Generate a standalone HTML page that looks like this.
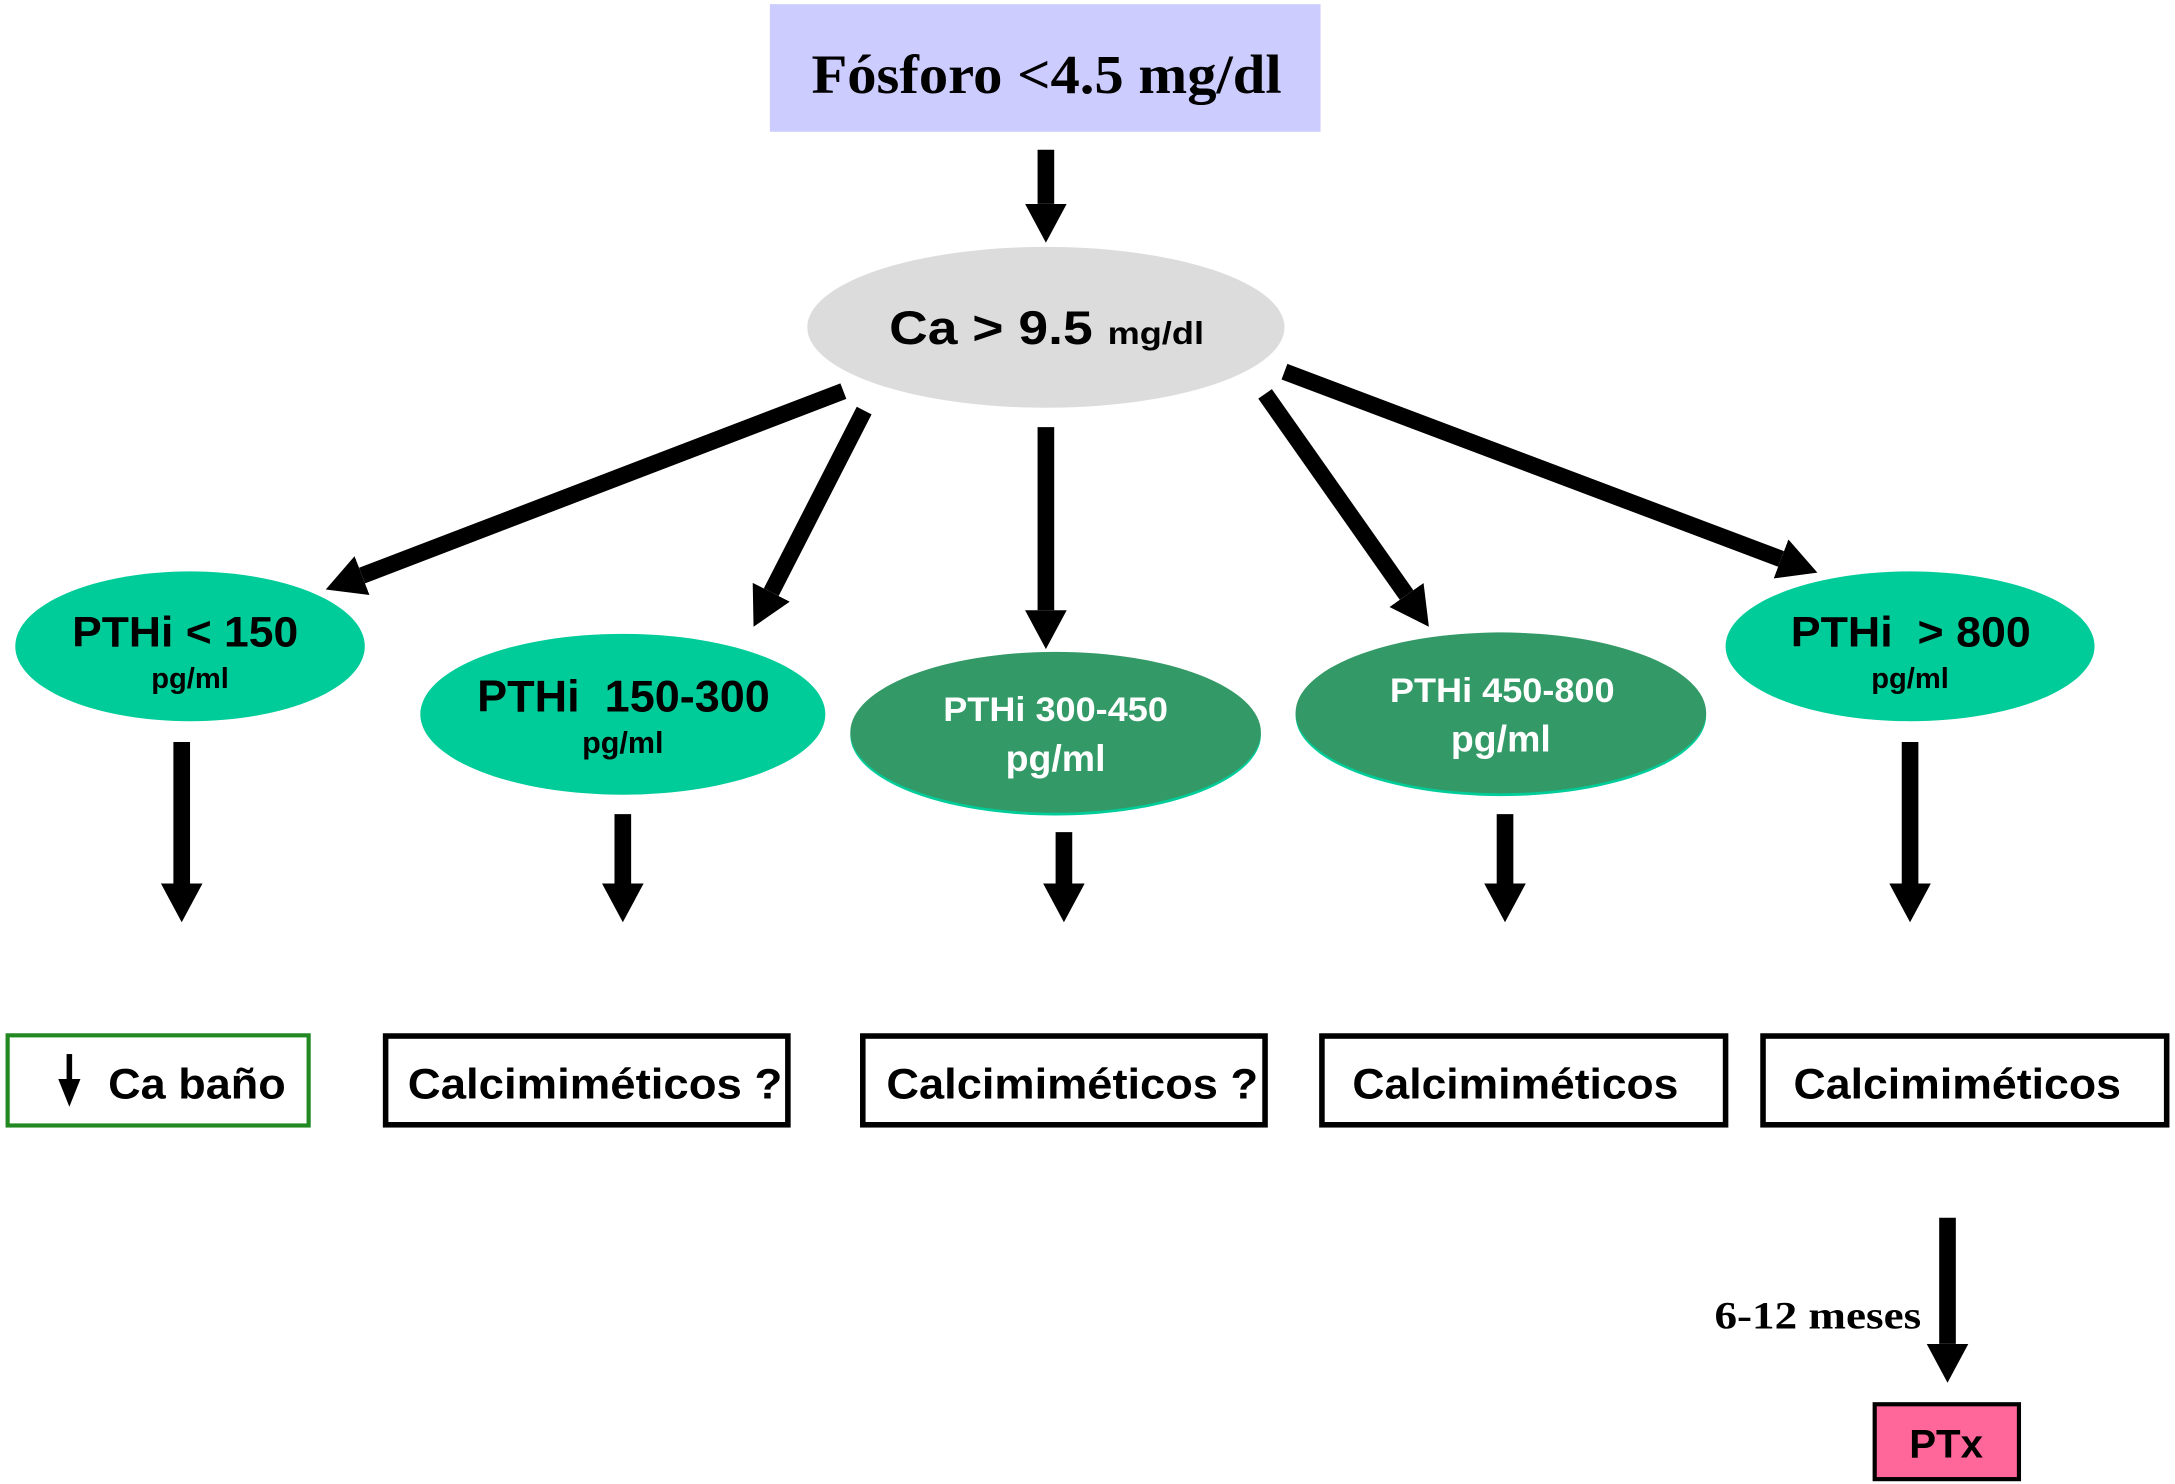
<!DOCTYPE html>
<html><head><meta charset="utf-8"><style>
html,body{margin:0;padding:0;background:#fff;}
svg{display:block;}
.s{font-family:"Liberation Sans",sans-serif;font-weight:bold;}
.r{font-family:"Liberation Serif",serif;font-weight:bold;}
</style></head><body>
<svg width="2175" height="1484" viewBox="0 0 1568 1070" preserveAspectRatio="none" xmlns="http://www.w3.org/2000/svg">
<defs>
<marker id="a" markerUnits="userSpaceOnUse" markerWidth="28" markerHeight="30" refX="0" refY="15" orient="auto" viewBox="0 0 28 30">
<path d="M0,0 L28,15 L0,30 Z" fill="#000"/>
</marker>
</defs>
<rect x="0" y="0" width="1568" height="1070" fill="#fff"/>
<rect x="555" y="3" width="397" height="92" fill="#ccccff"/>
<text x="585" y="67" class="r" font-size="40" textLength="339" lengthAdjust="spacingAndGlyphs">Fósforo &lt;4.5 mg/dl</text>
<g stroke="#000" stroke-width="12" fill="none" marker-end="url(#a)">
<line x1="754" y1="108" x2="754" y2="147"/>
<line x1="608" y1="282" x2="261" y2="415"/>
<line x1="623" y1="296" x2="556" y2="427"/>
<line x1="754" y1="308" x2="754" y2="440"/>
<line x1="912" y1="284" x2="1014" y2="429"/>
<line x1="926" y1="268" x2="1284" y2="403"/>
<line x1="131" y1="535" x2="131" y2="637"/>
<line x1="449" y1="587" x2="449" y2="637"/>
<line x1="767" y1="600" x2="767" y2="637"/>
<line x1="1085" y1="587" x2="1085" y2="637"/>
<line x1="1377" y1="535" x2="1377" y2="637"/>
<line x1="1404" y1="878" x2="1404" y2="969"/>
</g>
<ellipse cx="754" cy="236" rx="172" ry="58" fill="#dcdcdc"/>
<text x="641" y="248" class="s" font-size="34" textLength="227" lengthAdjust="spacingAndGlyphs">Ca &gt; 9.5 <tspan font-size="23">mg/dl</tspan></text>
<ellipse cx="137" cy="466" rx="126" ry="54" fill="#00cc99"/>
<text x="52" y="466" class="s" font-size="31" textLength="163" lengthAdjust="spacingAndGlyphs">PTHi &lt; 150</text>
<text x="137" y="496" text-anchor="middle" class="s" font-size="21">pg/ml</text>
<ellipse cx="449" cy="515" rx="146" ry="58" fill="#00cc99"/>
<text x="344" y="513" class="s" font-size="32" textLength="211" lengthAdjust="spacingAndGlyphs" xml:space="preserve">PTHi  150-300</text>
<text x="449" y="543" text-anchor="middle" class="s" font-size="22">pg/ml</text>
<ellipse cx="761" cy="530" rx="148" ry="58" fill="#00cc99"/>
<ellipse cx="761" cy="528" rx="148" ry="58" fill="#339966"/>
<text x="680" y="520" class="s" font-size="25" textLength="162" lengthAdjust="spacingAndGlyphs" fill="#fff">PTHi 300-450</text>
<text x="761" y="556" text-anchor="middle" class="s" font-size="27" fill="#fff">pg/ml</text>
<ellipse cx="1082" cy="516" rx="148" ry="58" fill="#00cc99"/>
<ellipse cx="1082" cy="514" rx="148" ry="58" fill="#339966"/>
<text x="1002" y="506" class="s" font-size="25" textLength="162" lengthAdjust="spacingAndGlyphs" fill="#fff">PTHi 450-800</text>
<text x="1082" y="542" text-anchor="middle" class="s" font-size="27" fill="#fff">pg/ml</text>
<ellipse cx="1377" cy="466" rx="133" ry="54" fill="#00cc99"/>
<text x="1291" y="466" class="s" font-size="31" textLength="173" lengthAdjust="spacingAndGlyphs" xml:space="preserve">PTHi  &gt; 800</text>
<text x="1377" y="496" text-anchor="middle" class="s" font-size="21">pg/ml</text>
<rect x="5.5" y="746.5" width="217" height="65" fill="#fff" stroke="#228822" stroke-width="3"/>
<line x1="50" y1="760" x2="50" y2="782" stroke="#000" stroke-width="4"/>
<path d="M42,778 L58,778 L50,798 Z" fill="#000"/>
<text x="78" y="792" class="s" font-size="31" textLength="128" lengthAdjust="spacingAndGlyphs">Ca baño</text>
<g fill="#fff" stroke="#000" stroke-width="4">
<rect x="278" y="747" width="290" height="64"/>
<rect x="622" y="747" width="290" height="64"/>
<rect x="953" y="747" width="291" height="64"/>
<rect x="1271" y="747" width="291" height="64"/>
</g>
<text x="294" y="792" class="s" font-size="31" textLength="270" lengthAdjust="spacingAndGlyphs">Calcimiméticos ?</text>
<text x="639" y="792" class="s" font-size="31" textLength="268" lengthAdjust="spacingAndGlyphs">Calcimiméticos ?</text>
<text x="975" y="792" class="s" font-size="31" textLength="235" lengthAdjust="spacingAndGlyphs">Calcimiméticos</text>
<text x="1293" y="792" class="s" font-size="31" textLength="236" lengthAdjust="spacingAndGlyphs">Calcimiméticos</text>
<text x="1236" y="958" class="r" font-size="28" textLength="149" lengthAdjust="spacingAndGlyphs">6-12 meses</text>
<rect x="1351.5" y="1012.5" width="104" height="54" fill="#ff6699" stroke="#000" stroke-width="3"/>
<text x="1403" y="1051" text-anchor="middle" class="s" font-size="29">PTx</text>
</svg>
</body></html>
